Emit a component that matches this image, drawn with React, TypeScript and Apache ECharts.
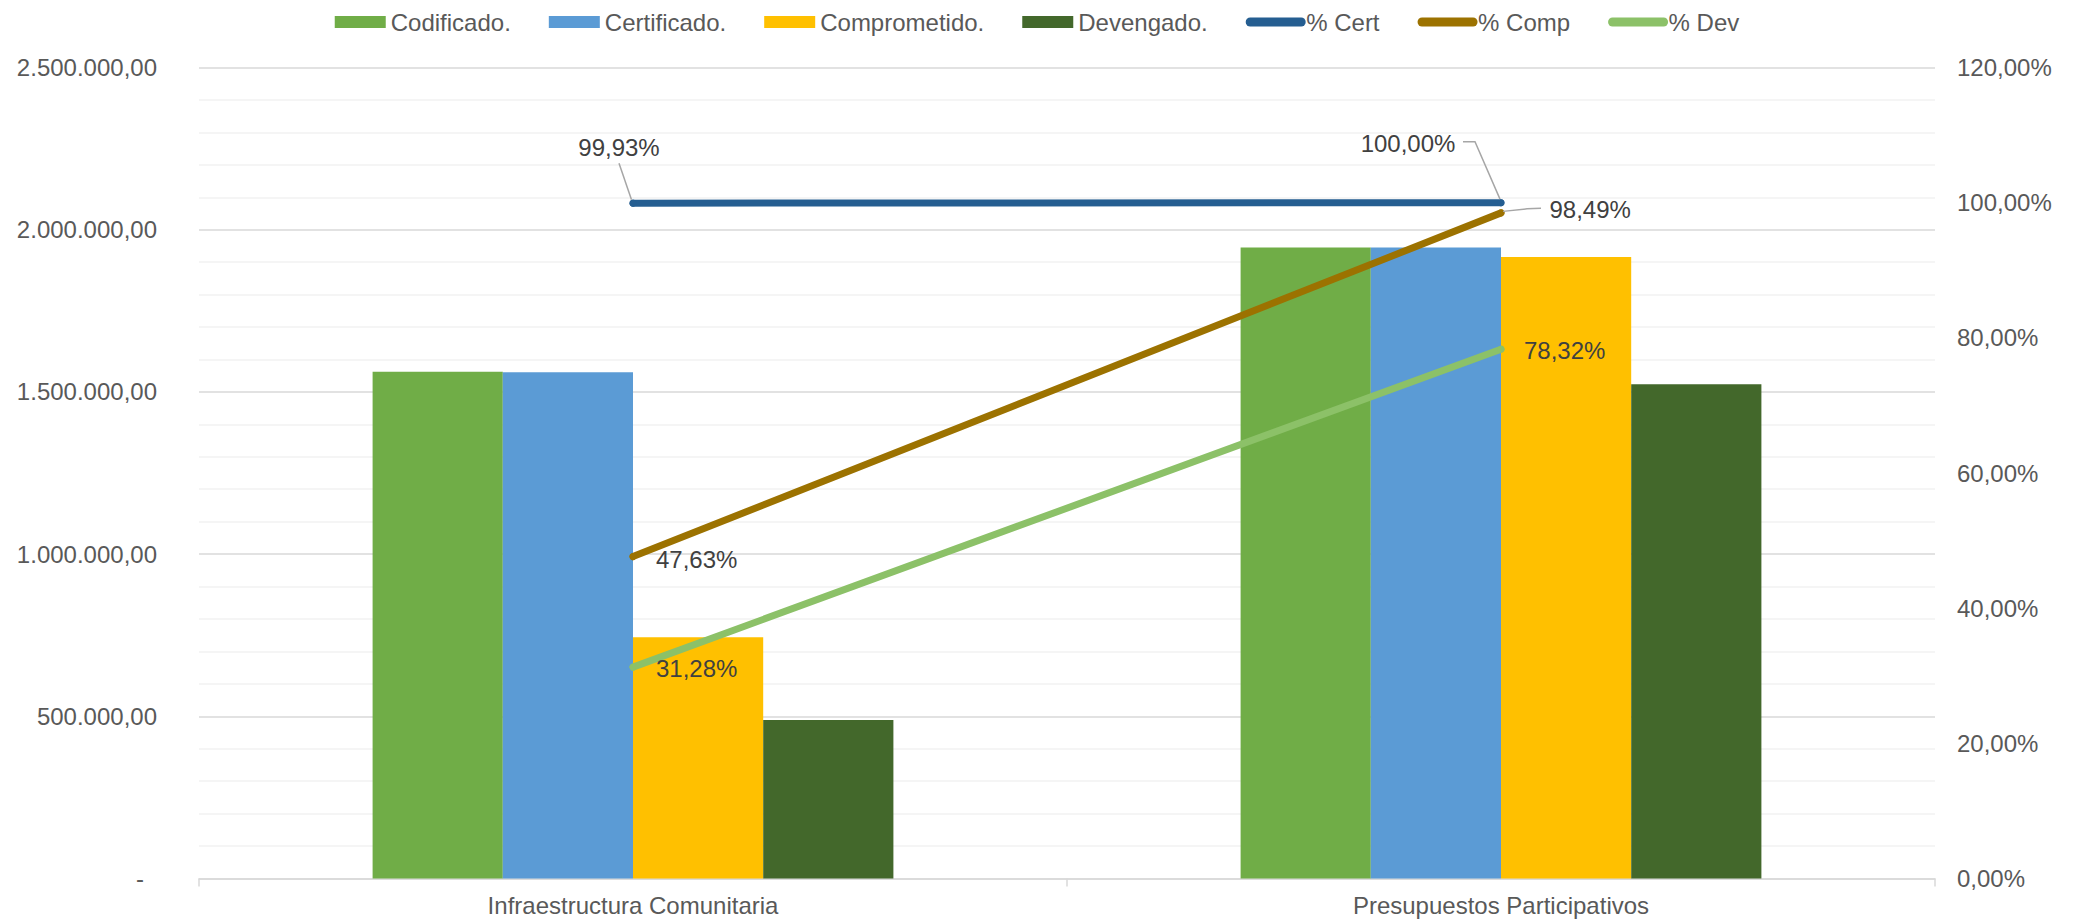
import React, { useEffect, useRef } from 'react';
import * as echarts from 'echarts';

const categories = ['Infraestructura Comunitaria', 'Presupuestos Participativos'];
const codificado = [1561800, 1945000];
const certificado = [1560700, 1945000];
const comprometido = [743900, 1915600];
const devengado = [488500, 1523300];
const pctCert = [99.93, 100.0];
const pctComp = [47.63, 98.49];
const pctDev = [31.28, 78.32];

const leftMax = 2500000;
const leftInterval = 500000;
const rightMax = 120;
const rightInterval = 20;

const FONT = "'Liberation Sans', Arial, sans-serif";
const AXIS_COLOR = '#595959';
const LABEL_COLOR = '#404040';
const GUIDE_COLOR = '#A6A6A6';

function fmtNum(v: number): string {
  if (v === 0) return '{z|-}';
  const [i, d] = v.toFixed(2).split('.');
  return i.replace(/\B(?=(\d{3})+(?!\d))/g, '.') + ',' + d;
}
function fmtPct(v: number): string {
  return v.toFixed(2).replace('.', ',') + '%';
}

export default function App() {
  const ref = useRef<HTMLDivElement>(null);
  useEffect(() => {
    document.body.style.margin = '0';
    document.body.style.overflow = 'hidden';
    const chart = echarts.init(ref.current!, null, { renderer: 'svg' });
    const labelBase = {
      show: true,
      fontSize: 24,
      fontFamily: FONT,
      color: LABEL_COLOR,
      textBorderWidth: 0,
      formatter: (p: any) => fmtPct(p.value),
    };
    const lineLegend = (name: string) => ({ name, itemStyle: { opacity: 0 } });
    const option: any = {
      animation: false,
      textStyle: { fontFamily: FONT },
      legend: {
        top: 5,
        left: 'center',
        itemWidth: 51,
        itemHeight: 12,
        itemGap: 38,
        textStyle: { fontSize: 24, color: AXIS_COLOR, fontFamily: FONT },
        lineStyle: { width: 9, cap: 'round' },
        data: [
          { name: 'Codificado.', icon: 'rect' },
          { name: 'Certificado.', icon: 'rect' },
          { name: 'Comprometido.', icon: 'rect' },
          { name: 'Devengado.', icon: 'rect' },
          lineLegend('% Cert'),
          lineLegend('% Comp'),
          lineLegend('% Dev'),
        ],
      },
      grid: { left: 199, right: 139, top: 67.5, bottom: 42.5, containLabel: false },
      xAxis: {
        type: 'category',
        data: categories,
        axisLine: { show: true, lineStyle: { color: '#D9D9D9', width: 1.5 } },
        axisTick: { show: true, length: 8, interval: 0, lineStyle: { color: '#D9D9D9', width: 1.5 } },
        axisLabel: { fontSize: 24, color: AXIS_COLOR, fontFamily: FONT, margin: 15, interval: 0 },
      },
      yAxis: [
        {
          type: 'value',
          min: 0,
          max: leftMax,
          interval: leftInterval,
          axisLine: { show: false },
          axisTick: { show: false },
          axisLabel: {
            fontSize: 24,
            color: AXIS_COLOR,
            fontFamily: FONT,
            margin: 42,
            formatter: fmtNum,
            rich: { z: { fontSize: 24, color: AXIS_COLOR, fontFamily: FONT, padding: [0, 13, 0, 0] } },
          },
          splitLine: { show: true, lineStyle: { color: '#D9D9D9', width: 1.5 } },
          minorTick: { show: false, splitNumber: 5 },
          minorSplitLine: { show: true, lineStyle: { color: '#F2F2F2', width: 1.5 } },
        },
        {
          type: 'value',
          min: 0,
          max: rightMax,
          interval: rightInterval,
          axisLine: { show: false },
          axisTick: { show: false },
          splitLine: { show: false },
          axisLabel: {
            fontSize: 24,
            color: AXIS_COLOR,
            fontFamily: FONT,
            margin: 22,
            formatter: (v: number) => fmtPct(v),
          },
        },
      ],
      series: [
        { name: 'Codificado.', type: 'bar', data: codificado, barGap: '0%', barCategoryGap: '40%', itemStyle: { color: '#70AD47' } },
        { name: 'Certificado.', type: 'bar', data: certificado, barGap: '0%', barCategoryGap: '40%', itemStyle: { color: '#5B9BD5' } },
        { name: 'Comprometido.', type: 'bar', data: comprometido, barGap: '0%', barCategoryGap: '40%', itemStyle: { color: '#FFC000' } },
        { name: 'Devengado.', type: 'bar', data: devengado, barGap: '0%', barCategoryGap: '40%', itemStyle: { color: '#43682B' } },
        {
          name: '% Cert',
          type: 'line',
          yAxisIndex: 1,
          z: 5,
          symbol: 'circle',
          symbolSize: 7,
          itemStyle: { color: '#255E91' },
          lineStyle: { color: '#255E91', width: 7, cap: 'round' },
          label: { ...labelBase, position: 'inside' },
          labelLayout: (p: any) => (p.dataIndex === 0 ? { dx: -14, dy: -56 } : { dx: -93, dy: -59 }),
          data: pctCert,
        },
        {
          name: '% Comp',
          type: 'line',
          yAxisIndex: 1,
          z: 5,
          symbol: 'circle',
          symbolSize: 7,
          itemStyle: { color: '#9C7200' },
          lineStyle: { color: '#9C7200', width: 7, cap: 'round' },
          label: { ...labelBase, position: 'right', distance: 19.5 },
          labelLayout: (p: any) => (p.dataIndex === 1 ? { dx: 25.5, dy: -3 } : { dy: 3 }),
          data: pctComp,
        },
        {
          name: '% Dev',
          type: 'line',
          yAxisIndex: 1,
          z: 5,
          symbol: 'circle',
          symbolSize: 7,
          itemStyle: { color: '#8CC168' },
          lineStyle: { color: '#8CC168', width: 7, cap: 'round' },
          label: { ...labelBase, position: 'right', distance: 19.5 },
          labelLayout: () => ({ dy: 1.5 }),
          data: pctDev,
        },
      ],
    };
    chart.setOption(option);

    // Leader lines for the moved labels, anchored on the data points
    const toPx = (i: number, v: number) =>
      chart.convertToPixel({ xAxisIndex: 0, yAxisIndex: 1 } as any, [i, v]) as number[];
    const c0 = toPx(0, pctCert[0]);
    const c1 = toPx(1, pctCert[1]);
    const m1 = toPx(1, pctComp[1]);
    const guide = (pts: number[][]) => ({
      type: 'polyline',
      z: 10,
      silent: true,
      shape: { points: pts },
      style: { stroke: GUIDE_COLOR, lineWidth: 1.5, fill: null },
    });
    chart.setOption({
      graphic: [
        guide([
          [c0[0] - 14, c0[1] - 40],
          [c0[0] - 1.5, c0[1] - 3.5],
        ]),
        guide([
          [c1[0] - 38, c1[1] - 61],
          [c1[0] - 26, c1[1] - 61],
          [c1[0] - 1, c1[1] - 3.5],
        ]),
        guide([
          [m1[0] + 2, m1[1] - 1.5],
          [m1[0] + 26, m1[1] - 4],
          [m1[0] + 40, m1[1] - 4.5],
        ]),
      ],
    });
    return () => chart.dispose();
  }, []);
  return <div ref={ref} style={{ width: 2074, height: 921 }} />;
}
